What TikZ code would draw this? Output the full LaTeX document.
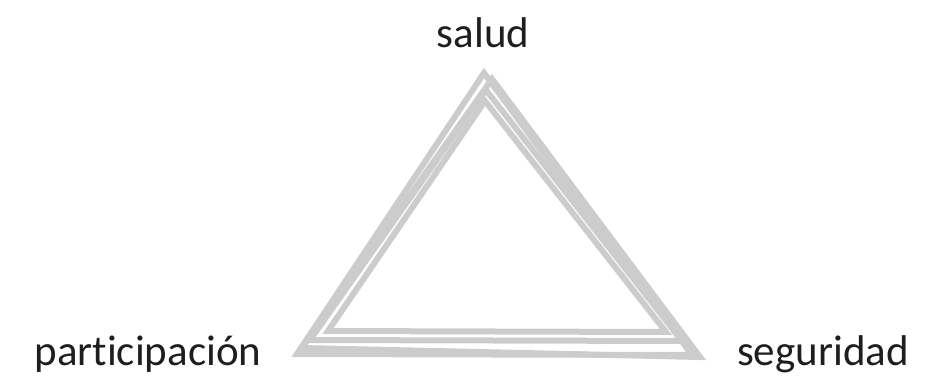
\documentclass[tikz,border=0pt]{standalone}
\usepackage{fontspec}
\setmainfont[Ligatures=NoCommon]{Carlito}
\usepackage{xcolor}
\usepackage{tikz}
\definecolor{sketchgray}{RGB}{204, 204, 204}
\definecolor{labelblack}{RGB}{30, 30, 30}

\begin{document}
\begin{tikzpicture}[x=1pt, y=-1pt, font=\fontsize{43}{50}\selectfont,
  label/.style={anchor=base, inner sep=0pt, text=labelblack},
  sketch/.style={draw=sketchgray, line width=6pt, line join=miter}]
\useasboundingbox (0,0) rectangle (949,375);

\node[label] (salud) at (483,47) {salud};
\node[label] (part) at (148,365) {participación};
\node[label] (seg) at (823,365) {seguridad};

\draw[sketch] (484,73) -- (297,354) -- (692,355) -- cycle;
\draw[sketch] (492,79) -- (302,348) -- (700,357) -- cycle;
\draw[sketch] (486,90) -- (310,340) -- (682,341) -- cycle;
\draw[sketch] (485,101) -- (328,331) -- (666,332) -- cycle;
\end{tikzpicture}
\end{document}
